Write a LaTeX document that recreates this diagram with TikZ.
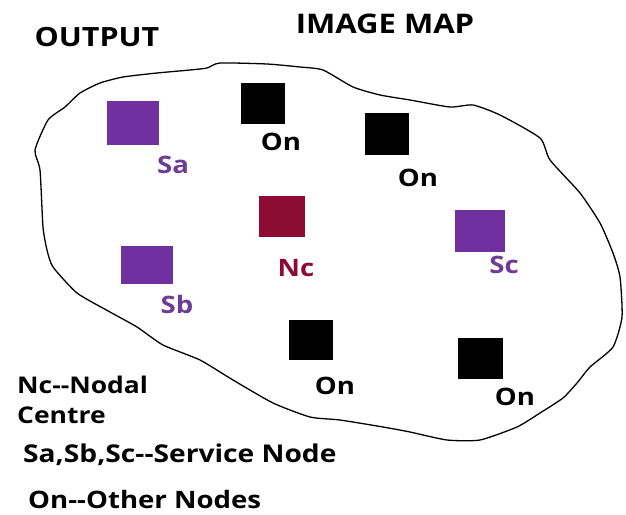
\documentclass[tikz,border=0pt]{standalone}
\usepackage{fontspec}
\setmainfont[FakeStretch=1.15]{Open Sans}
\begin{document}
\begin{tikzpicture}[x=1pt,y=-1pt,
  sq/.style={rectangle,inner sep=0pt,outer sep=0pt,draw=none},
  lbl/.style={inner sep=0pt,font=\fontsize{24}{28}\selectfont\bfseries},
  legend/.style={inner sep=0pt,anchor=base west,font=\fontsize{24}{28}\selectfont\bfseries},
  title/.style={inner sep=0pt,font=\fontsize{27}{32}\selectfont\bfseries}]
\definecolor{svc}{RGB}{112,48,160}
\definecolor{svctext}{RGB}{110,60,150}
\definecolor{nodal}{RGB}{140,12,52}
\useasboundingbox[fill=white] (0,0) rectangle (626,514);

% image-map outline
\draw[line width=1.3pt,line join=round] plot[smooth cycle,tension=0.35] coordinates {
 (35,150) (48,120) (65,107) (80,93) (100,83) (123,77) (157,73) (190,70)
 (207,68) (220,63) (267,64) (300,67) (323,70) (353,87) (380,95) (410,100)
 (450,107) (473,105) (500,115) (540,138) (550,160) (580,193) (600,223)
 (613,253) (620,277) (622,317) (613,347) (590,367) (577,383) (563,398)
 (540,413) (517,427) (480,440) (447,440) (410,432) (383,427) (340,420)
 (310,417) (273,403) (233,380) (200,360) (163,345) (137,327) (110,312)
 (77,293) (53,267) (47,250) (43,227) (40,170)};

% titles
\node[title,font=\fontsize{26.5}{32}\selectfont\bfseries] (output) at (97,37) {OUTPUT};
\node[title] (imap) at (385,24) {IMAGE MAP};

% service nodes
\node[sq,fill=svc,minimum width=52pt,minimum height=44pt] (sa) at (133,123) {};
\node[sq,fill=svc,minimum width=52pt,minimum height=38pt] (sb) at (147,265) {};
\node[sq,fill=svc,minimum width=50pt,minimum height=42pt] (sc) at (480,231) {};
\node[lbl,text=svctext] (salbl) at (173,165) {Sa};
\node[lbl,text=svctext] (sblbl) at (177,304) {Sb};
\node[lbl,text=svctext] (sclbl) at (504,265) {Sc};

% nodal centre
\node[sq,fill=nodal,minimum width=46pt,minimum height=41pt] (nc) at (282,216.5) {};
\node[lbl,text=nodal] (nclbl) at (296,268) {Nc};

% other nodes
\node[sq,fill=black,minimum width=44pt,minimum height=41pt] (on1) at (263,103.5) {};
\node[sq,fill=black,minimum width=44pt,minimum height=42pt] (on2) at (387,134) {};
\node[sq,fill=black,minimum width=44pt,minimum height=40pt] (on3) at (311,340) {};
\node[sq,fill=black,minimum width=45pt,minimum height=41pt] (on4) at (480.5,358.5) {};
\node[lbl] (on1lbl) at (281,142) {On};
\node[lbl] (on2lbl) at (418,178) {On};
\node[lbl] (on3lbl) at (335,386) {On};
\node[lbl] (on4lbl) at (515,397) {On};

% legend
\node[legend,font=\fontsize{23}{28}\selectfont\bfseries] (leg1) at (17,393) {Nc-{}-Nodal};
\node[legend,font=\fontsize{23}{28}\selectfont\bfseries] (leg2) at (17,423) {Centre};
\node[legend,font=\fontsize{24.5}{28}\selectfont\bfseries] (leg3) at (23,462) {Sa,Sb,Sc-{}-Service Node};
\node[legend] (leg4) at (28,508) {On-{}-Other Nodes};
\end{tikzpicture}
\end{document}
